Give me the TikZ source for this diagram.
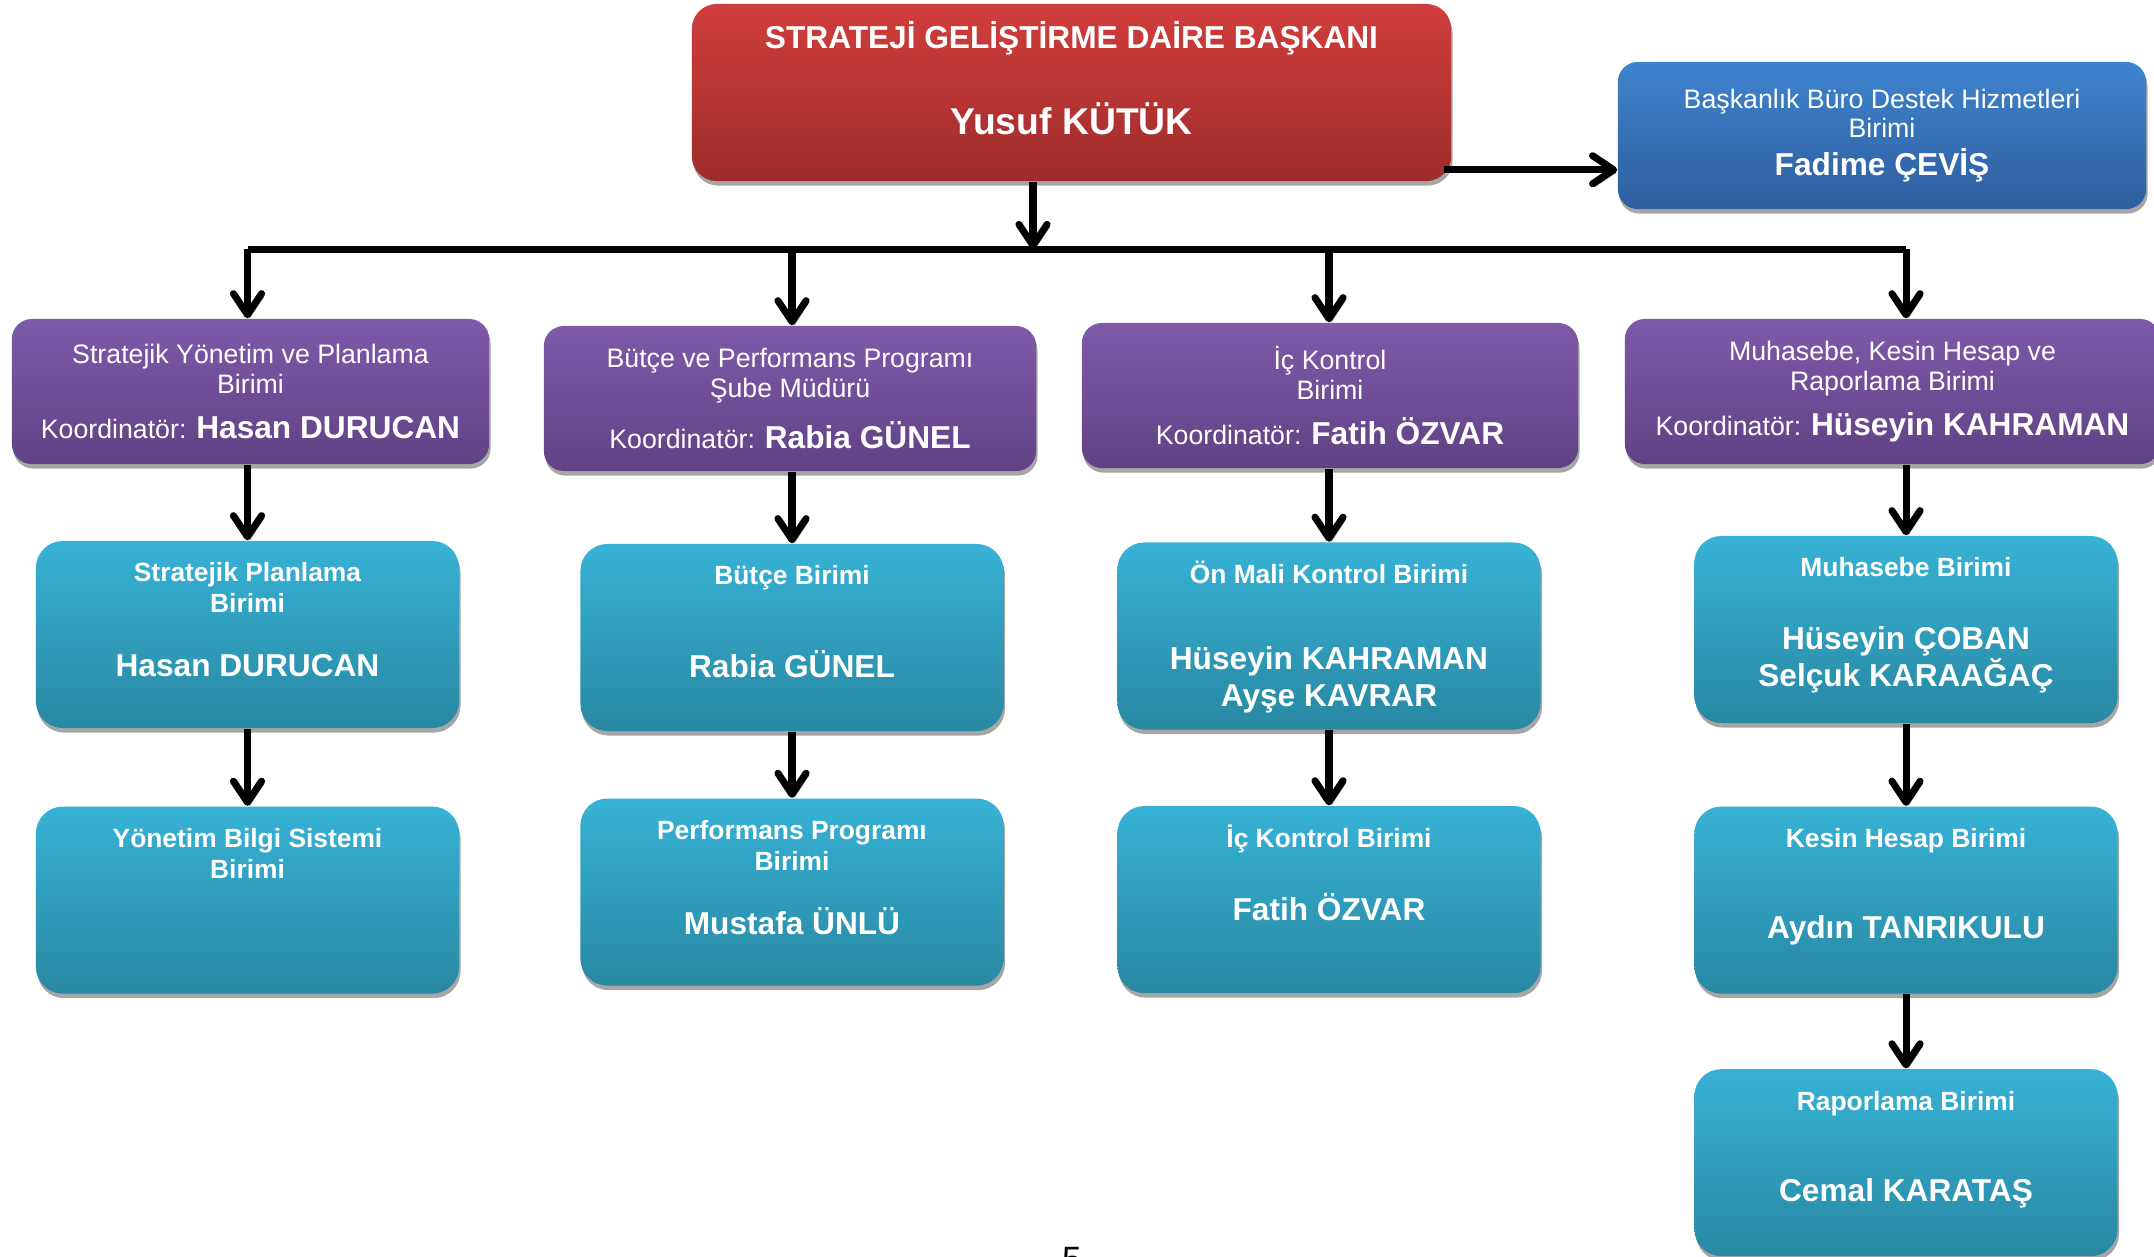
\documentclass[tikz,border=0pt]{standalone}
\usepackage{fontspec}
\setmainfont{Liberation Sans}
\usetikzlibrary{arrows.meta, positioning, shadows}

\definecolor{redtop}{RGB}{208,62,60}
\definecolor{redbot}{RGB}{158,44,44}
\definecolor{bluetop}{RGB}{62,132,206}
\definecolor{bluebot}{RGB}{46,94,158}
\definecolor{purptop}{RGB}{126,90,170}
\definecolor{purpbot}{RGB}{96,66,132}
\definecolor{tealtop}{RGB}{55,178,214}
\definecolor{tealbot}{RGB}{40,136,162}

\newcommand{\titlefont}{\fontsize{9}{10.8}\selectfont\bfseries}
\newcommand{\bossfont}{\fontsize{10.6}{12.7}\selectfont\bfseries}
\newcommand{\smallfont}{\fontsize{7.6}{8.5}\selectfont}
\newcommand{\headfont}{\fontsize{7.5}{8.8}\selectfont\bfseries}
\newcommand{\namefont}{\fontsize{9}{10.5}\selectfont\bfseries}
% teal unit box: heading at the top, names below it
\newcommand{\unitbox}[3]{\parbox[c][1.87cm][t]{4.23cm}{\centering
    \vspace*{0.11cm}{\headfont\rule{0pt}{0.3cm}#1\par}%
    \vspace{#2}{\namefont #3\par}}}

\tikzstyle{boxshadow} = [drop shadow={shadow xshift=0.4pt, shadow yshift=-1.3pt,
                         fill=black, opacity=0.35}]
\tikzstyle{head}   = [rectangle, rounded corners=0.25cm, inner sep=0pt,
                      text=white, top color=redtop, bottom color=redbot, boxshadow]
\tikzstyle{office} = [rectangle, rounded corners=0.2cm, minimum width=5.28cm,
                      minimum height=1.47cm, inner sep=0pt, align=center,
                      text=white, font=\smallfont,
                      top color=bluetop, bottom color=bluebot, boxshadow]
\tikzstyle{coord}  = [rectangle, rounded corners=0.2cm, minimum height=1.45cm,
                      inner sep=0pt, align=center, text=white, font=\smallfont,
                      top color=purptop, bottom color=purpbot, boxshadow]
\tikzstyle{unit}   = [rectangle, rounded corners=0.27cm, inner sep=0pt,
                      text=white, top color=tealtop, bottom color=tealbot, boxshadow]
\tikzstyle{wire}   = [line width=2pt,
                      preaction={draw=black!30, transform canvas={xshift=0.6pt, yshift=-0.8pt}}]
\tikzstyle{arr}    = [wire, -{Straight Barb[length=6pt, width=8pt, round]}]

\begin{document}
\begin{tikzpicture}[x=0.01cm, y=-0.01cm]
  \useasboundingbox (0,0) rectangle (2154,1256);

  %% Head of department
  \node[head] (red) at (1071.5,92.5)
      {\parbox[c][1.77cm][t]{7.59cm}{\centering\vspace*{0.15cm}%
        {\titlefont\rule{0pt}{0.3cm}STRATEJİ GELİŞTİRME DAİRE BAŞKANI\par}%
        \vspace{0.41cm}{\bossfont Yusuf KÜTÜK\par}}};

  %% Office support
  \node[office] (blue) at (1882,135.5)
      {Başkanlık Büro Destek Hizmetleri\\Birimi\\[0.08cm]{\namefont Fadime ÇEVİŞ}};

  %% ── Coordinators ──────────────────────────────────────────────
  \node[coord, minimum width=4.77cm] (p1) at (250.5,391.5)
      {Stratejik Yönetim ve Planlama\\Birimi\\[0.155cm]Koordinatör: {\namefont Hasan DURUCAN}};
  \node[coord, minimum width=4.92cm] (p2) at (790,398.5)
      {Bütçe ve Performans Programı\\Şube Müdürü\\[0.155cm]Koordinatör: {\namefont Rabia GÜNEL}};
  \node[coord, minimum width=4.96cm] (p3) at (1330,395.5)
      {İç Kontrol\\Birimi\\[0.155cm]Koordinatör: {\namefont Fatih ÖZVAR}};
  \node[coord, minimum width=5.35cm] (p4) at (1892.5,391.5)
      {Muhasebe, Kesin Hesap ve\\Raporlama Birimi\\[0.155cm]Koordinatör: {\namefont Hüseyin KAHRAMAN}};

  %% ── Units ─────────────────────────────────────────────────────
  \node[unit] (t11) at (247.5,634.5)
      {\unitbox{Stratejik Planlama\\Birimi}{0.27cm}{Hasan DURUCAN}};
  \node[unit, below=0.77cm of t11] (t12)
      {\unitbox{Yönetim Bilgi Sistemi\\Birimi}{0cm}{}};

  \node[unit] (t21) at (792,637.5)
      {\unitbox{Bütçe Birimi}{0.56cm}{Rabia GÜNEL}};
  \node[unit, below=0.66cm of t21] (t22)
      {\unitbox{Performans Programı\\Birimi}{0.27cm}{Mustafa ÜNLÜ}};

  \node[unit] (t31) at (1329,636)
      {\unitbox{Ön Mali Kontrol Birimi}{0.49cm}{Hüseyin KAHRAMAN\\Ayşe KAVRAR}};
  \node[unit, below=0.75cm of t31] (t32)
      {\unitbox{İç Kontrol Birimi}{0.37cm}{Fatih ÖZVAR}};

  \node[unit] (t41) at (1906,629.5)
      {\unitbox{Muhasebe Birimi}{0.36cm}{Hüseyin ÇOBAN\\Selçuk KARAAĞAÇ}};
  \node[unit, below=0.82cm of t41] (t42)
      {\unitbox{Kesin Hesap Birimi}{0.54cm}{Aydın TANRIKULU}};
  \node[unit, below=0.74cm of t42] (t43)
      {\unitbox{Raporlama Birimi}{0.54cm}{Cemal KARATAŞ}};

  %% page number, cut off at the lower edge
  \node[anchor=north, inner sep=0pt, font=\fontsize{10}{12}\selectfont] (page) at (1072,1247) {5};

  %% ── Connectors ────────────────────────────────────────────────
  \coordinate (bus) at (1033,249);
  \coordinate (rb) at ([xshift=-0.08cm, yshift=0.12cm]red.south east);

  \draw[arr] (rb) -- (rb -| blue.west);
  \draw[arr] (red.south -| bus) -- (bus);
  \draw[wire] (t11.north |- bus) -- (t41.north |- bus);

  \draw[arr] (t11.north |- bus) -- (p1.north -| t11.north);
  \draw[arr] (t21.north |- bus) -- (p2.north -| t21.north);
  \draw[arr] (t31.north |- bus) -- (p3.north -| t31.north);
  \draw[arr] (t41.north |- bus) -- (p4.north -| t41.north);

  \draw[arr] (p1.south -| t11.north) -- (t11.north);
  \draw[arr] (p2.south -| t21.north) -- (t21.north);
  \draw[arr] (p3.south -| t31.north) -- (t31.north);
  \draw[arr] (p4.south -| t41.north) -- (t41.north);

  \draw[arr] (t11) -- (t12);
  \draw[arr] (t21) -- (t22);
  \draw[arr] (t31) -- (t32);
  \draw[arr] (t41) -- (t42);
  \draw[arr] (t42) -- (t43);

\end{tikzpicture}
\end{document}
